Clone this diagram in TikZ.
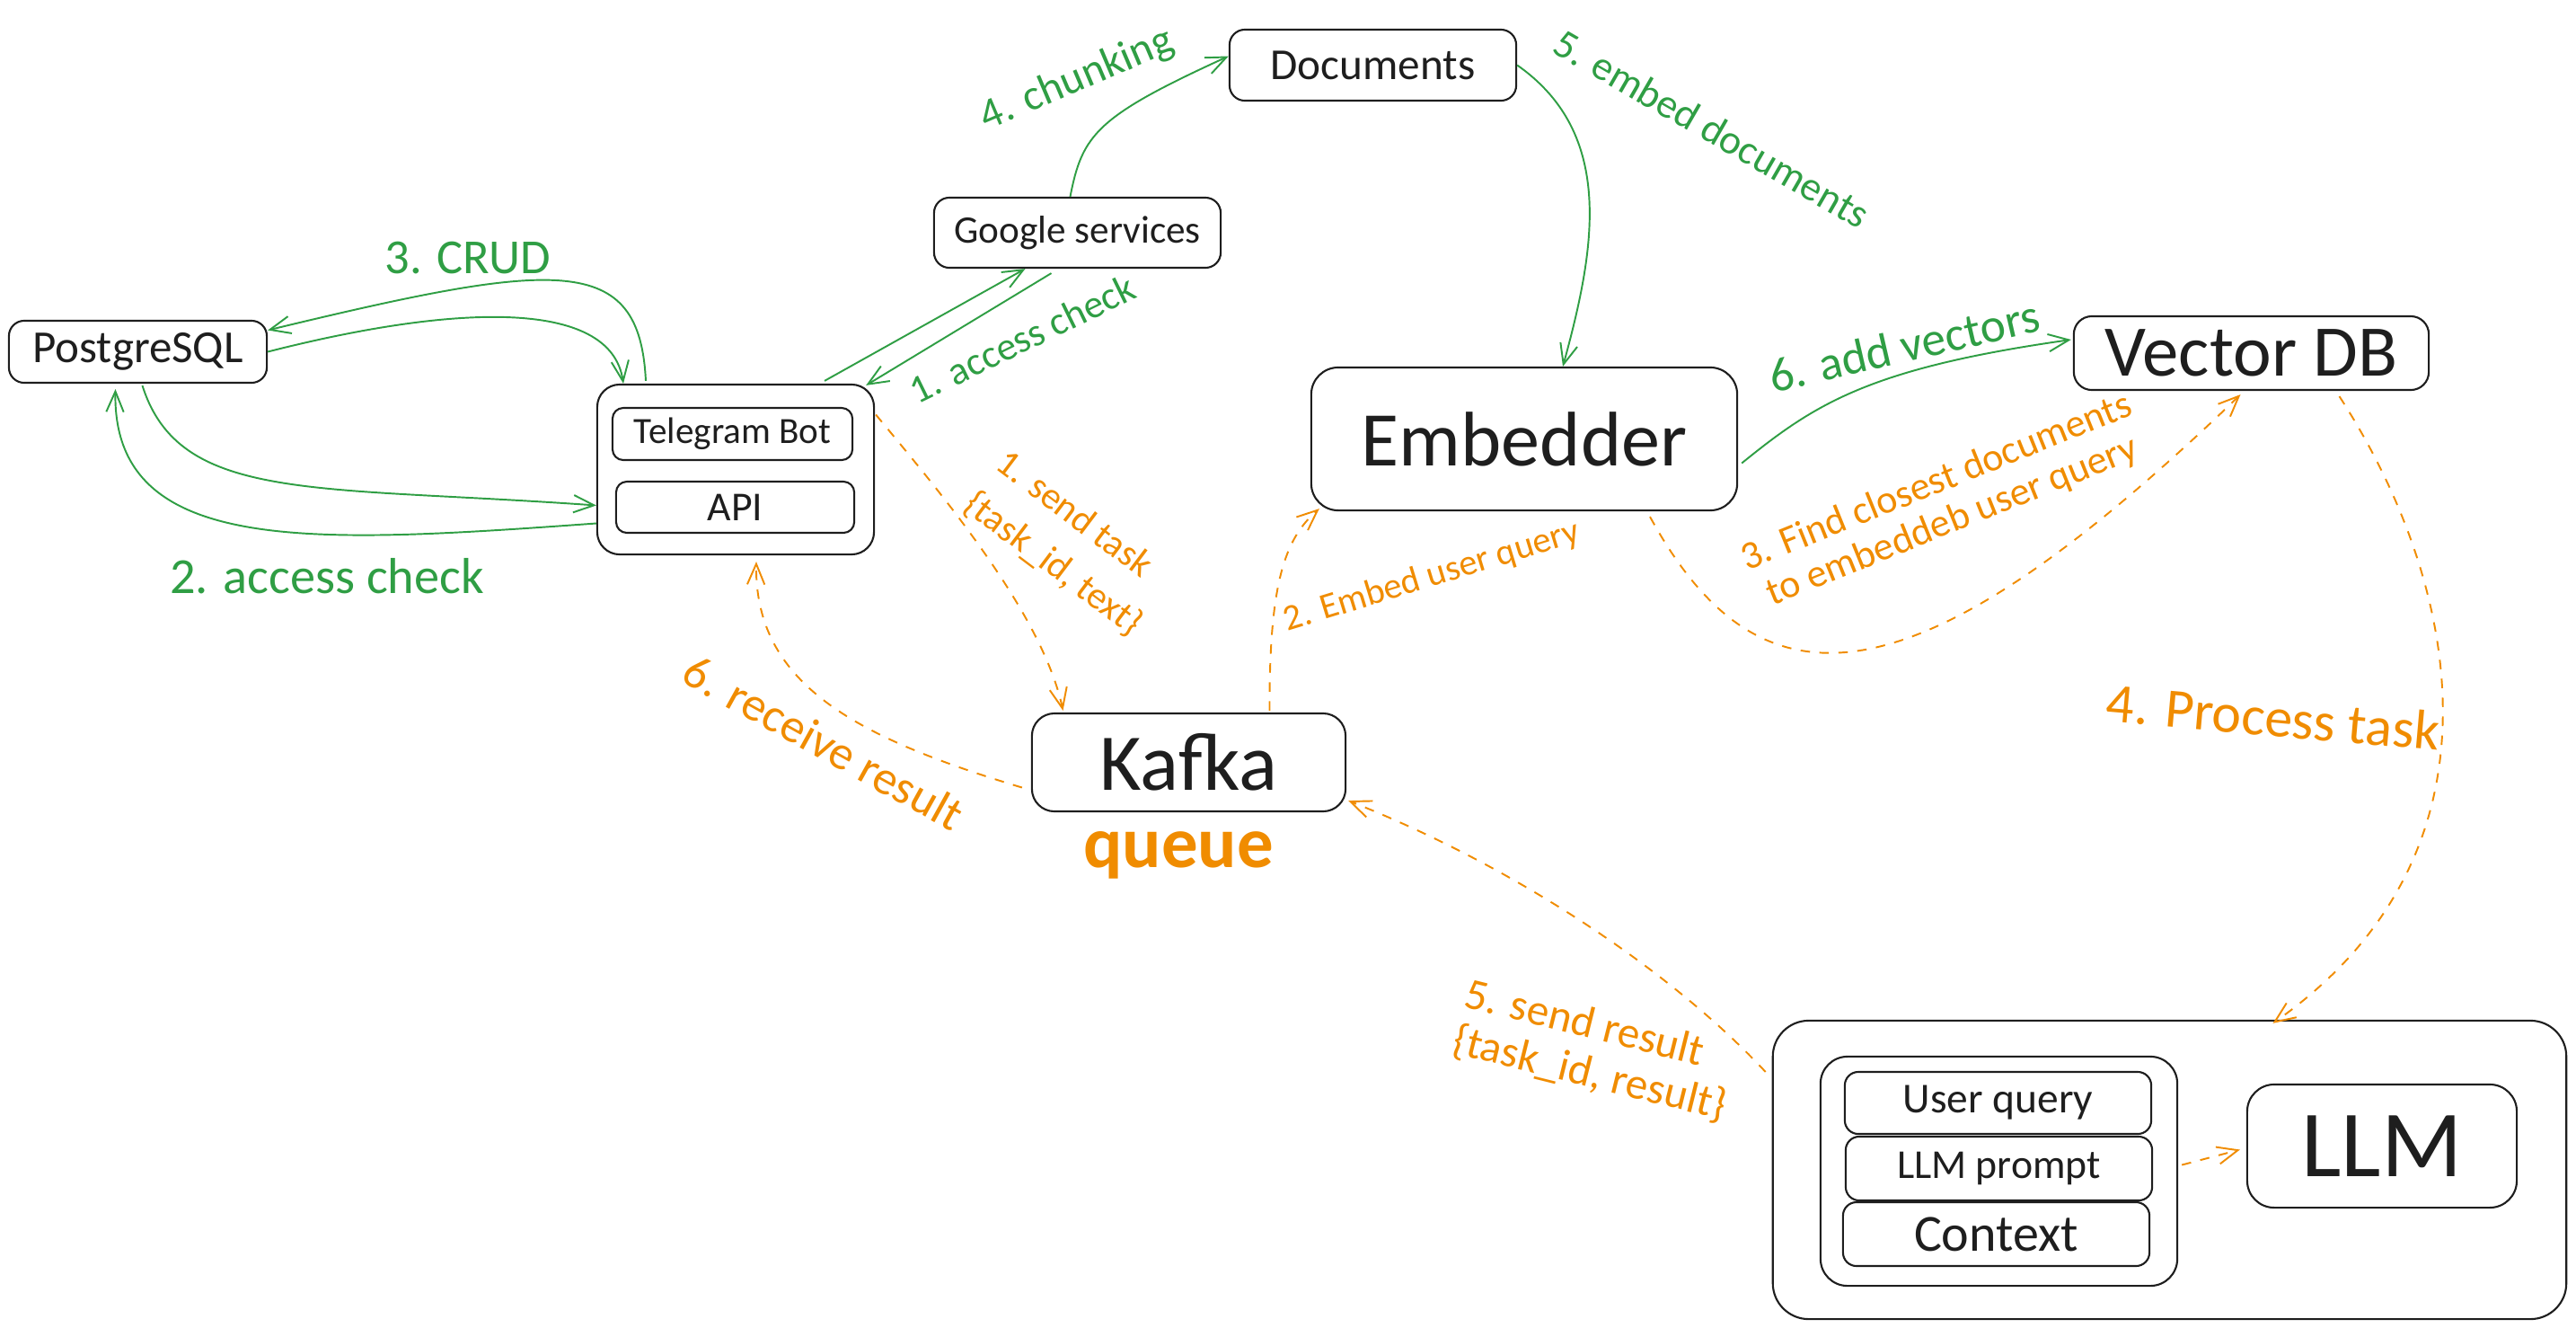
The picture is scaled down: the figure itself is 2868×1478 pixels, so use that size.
\documentclass[tikz,border=0pt]{standalone}
\usepackage{fontspec}
\setmainfont{Carlito}
\usetikzlibrary{arrows.meta,calc}
\definecolor{exgreen}{HTML}{2F9E44}
\definecolor{exorange}{HTML}{F08C00}
\definecolor{exblack}{HTML}{1E1E1E}
\newcommand{\fs}[1]{\fontsize{#1}{1.2\dimexpr #1pt\relax}\selectfont}
\begin{document}
\begin{tikzpicture}[x=0.01cm,y=-0.01cm,
  box/.style={draw=exblack, line width=0.6pt, rounded corners=#1, inner sep=0pt, text=exblack},
  box/.default=0.15cm,
  garrow/.style={draw=exgreen, line width=0.55pt, -{Straight Barb[length=6.5pt,width=5.5pt]}},
  oarrow/.style={draw=exorange, line width=0.55pt, dash pattern=on 3pt off 3pt, -{Straight Barb[length=6.5pt,width=5.5pt]}},
  glabel/.style={text=exgreen, inner sep=0pt},
  olabel/.style={text=exorange, inner sep=0pt},
]
\useasboundingbox (0,0) rectangle (2868,1478);

% boxes
\node[box=0.17cm, minimum width=2.87cm, minimum height=0.69cm, font=\fs{14.5}] (pg) at (153.5,391.5) {PostgreSQL};
\node[box=0.25cm, minimum width=3.08cm, minimum height=1.89cm] (tgc) at (819,522.5) {};
\node[box=0.12cm, minimum width=2.67cm, minimum height=0.58cm, font=\fs{11.7}] (tgb) at (815.5,483) {Telegram Bot};
\node[box=0.12cm, minimum width=2.65cm, minimum height=0.57cm, font=\fs{13}] (api) at (818.5,564.5) {API};
\node[box=0.17cm, minimum width=3.19cm, minimum height=0.78cm, font=\fs{12.3}] (gs) at (1199.5,259) {Google services};
\node[box=0.17cm, minimum width=3.19cm, minimum height=0.79cm, font=\fs{14}] (docs) at (1528.5,72.5) {Documents};
\node[box=0.3cm, minimum width=4.74cm, minimum height=1.59cm, font=\fs{24.5}] (emb) at (1697,488.5) {Embedder};
\node[box=0.2cm, minimum width=3.95cm, minimum height=0.82cm, font=\fs{23}] (vdb) at (2506.5,393) {Vector DB};
\node[box=0.25cm, minimum width=3.49cm, minimum height=1.09cm, font=\fs{25.5}] (kafka) at (1323.5,848.5) {Kafka};
\node[box=0.4cm, minimum width=8.83cm, minimum height=3.32cm] (llmc) at (2415.5,1302) {};
\node[box=0.3cm, minimum width=3.97cm, minimum height=2.55cm] (inner) at (2225.5,1303.5) {};
\node[box=0.15cm, minimum width=3.41cm, minimum height=0.69cm, font=\fs{13.5}] (uq) at (2224.5,1227.5) {User query};
\node[box=0.15cm, minimum width=3.41cm, minimum height=0.71cm, font=\fs{13}] (lp) at (2225.5,1300.5) {LLM prompt};
\node[box=0.15cm, minimum width=3.41cm, minimum height=0.71cm, font=\fs{16.5}] (ctx) at (2222.5,1373.5) {Context};
\node[box=0.3cm, minimum width=3cm, minimum height=1.37cm, font=\fs{30}] (llm) at (2652,1275.5) {LLM};

% labels
\node[glabel, font=\fs{15.5}] (lcrud) at (521,287) {3. CRUD};
\node[glabel, font=\fs{16}] (lacc2) at (364,641) {2. access check};
\node[glabel, rotate=26, font=\fs{12.5}] (lacc1) at (1138,377) {1. access check};
\node[glabel, rotate=23, font=\fs{13.7}] (lchunk) at (1199,89) {4. chunking};
\node[glabel, rotate=-30, font=\fs{13}] (lembd) at (1906,143) {5. embed documents};
\node[glabel, rotate=13, font=\fs{15.2}] (ladd) at (2120,385) {6. add vectors};
\node[olabel, rotate=-37, align=left, font=\fontsize{12}{16.5}\selectfont] (lsend) at (1190,605) {1. send task\\\{task\_id, text\}};
\node[olabel, rotate=17, font=\fs{11.5}] (lembq) at (1594,642) {2. Embed user query};
\node[olabel, rotate=22, align=center, font=\fontsize{12.5}{13.3}\selectfont] (lfind) at (2165,559) {3. Find closest documents\\to embeddeb user query};
\node[olabel, rotate=-5, font=\fs{17.6}] (lproc) at (2531,798) {4. Process task};
\node[olabel, rotate=-14, align=left, font=\fontsize{14}{15}\selectfont] (lres) at (1776,1170) {5. send result\\\{task\_id, result\}};
\node[olabel, rotate=-29, font=\fs{15.1}] (lrecv) at (917,826) {6. receive result};
\node[olabel, anchor=base, font=\bfseries\fs{23}] (lqueue) at (1312,965) {queue};

% green connectors
\draw[garrow] ($(tgc.north)+(-100,-3)$) .. controls (712,280) and (620,290) .. ($(pg.east)+(0,-24)$);
\draw[garrow] (pg.east) .. controls (500,340) and (680,330) .. ($(tgc.north)+(-125,0)$);
\draw[garrow] ($(pg.south)+(5,2)$) .. controls (200,560) and (350,540) .. ($(tgc.west)+(0,40)$);
\draw[garrow] ($(tgc.west)+(0,60)$) .. controls (350,605) and (125,620) .. ($(pg.south)+(-25,6)$);
\draw[garrow] ($(tgc.north)+(99,-3)$) -- ($(gs.south)+(-58,0)$);
\draw[garrow] ($(gs.south)+(-29,5)$) -- ($(tgc.north east)+(-10,2)$);
\draw[garrow] ($(gs.north)+(-8,0)$) .. controls (1205,150) and (1220,130) .. ($(docs.west)+(0,-10)$);
\draw[garrow] (docs.east) .. controls (1800,150) and (1775,280) .. ($(emb.north)+(43,0)$);
\draw[garrow] ($(emb.east)+(4,27)$) .. controls (2020,450) and (2080,410) .. ($(vdb.west)+(-2,-15)$);

% orange connectors
\draw[oarrow] ($(tgc.east)+(1,-61)$) .. controls (1040,540) and (1160,680) .. ($(kafka.north)+(-140,-2)$);
\draw[oarrow] ($(kafka.north)+(90,-2)$) .. controls (1413,650) and (1430,600) .. ($(emb.south west)+(10,-3)$);
\draw[oarrow] ($(kafka.west)+(-10,28)$) .. controls (950,820) and (840,760) .. ($(tgc.south)+(23,7)$);
\draw[oarrow] ($(emb.south)+(140,6)$) .. controls (1960,800) and (2130,790) .. ($(vdb.south)+(-12,4)$);
\draw[oarrow] ($(vdb.south)+(98,6)$) .. controls (2740,650) and (2800,950) .. ($(llmc.north)+(115,4)$);
\draw[oarrow] ($(llmc.west)+(-7,-109)$) .. controls (1870,1090) and (1700,970) .. ($(kafka.south east)+(2,-13)$);
\draw[oarrow] ($(inner.east)+(4,-7)$) -- ($(llm.west)+(-7,4)$);
\end{tikzpicture}
\end{document}
